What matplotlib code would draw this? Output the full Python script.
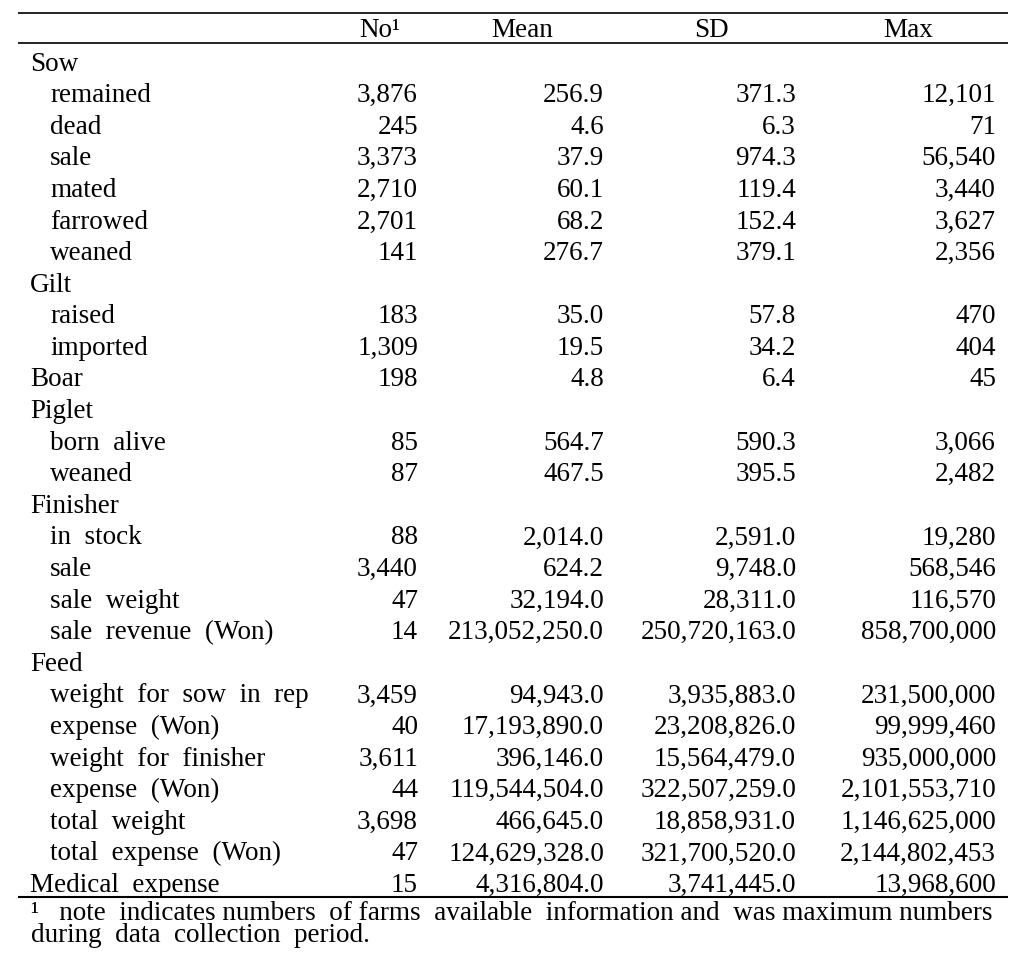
import matplotlib
matplotlib.use("Agg")
import matplotlib.pyplot as plt

# table content
labels = ["Sow", "remained", "dead", "sale", "mated", "farrowed", "weaned",
          "Gilt", "raised", "imported", "Boar",
          "Piglet", "born alive", "weaned",
          "Finisher", "in stock", "sale", "sale weight", "sale revenue (Won)",
          "Feed", "weight for sow in rep", "expense (Won)", "weight for finisher",
          "expense (Won)", "total weight", "total expense (Won)",
          "Medical expense"]
indent = [0, 1, 1, 1, 1, 1, 1,
          0, 1, 1, 0,
          0, 1, 1,
          0, 1, 1, 1, 1,
          0, 1, 1, 1, 1, 1, 1,
          0]
n_farms = [None, 3876, 245, 3373, 2710, 2701, 141,
           None, 183, 1309, 198,
           None, 85, 87,
           None, 88, 3440, 47, 14,
           None, 3459, 40, 3611, 44, 3698, 47,
           15]
means = [None, 256.9, 4.6, 37.9, 60.1, 68.2, 276.7,
         None, 35.0, 19.5, 4.8,
         None, 564.7, 467.5,
         None, 2014.0, 624.2, 32194.0, 213052250.0,
         None, 94943.0, 17193890.0, 396146.0, 119544504.0, 466645.0, 124629328.0,
         4316804.0]
sds = [None, 371.3, 6.3, 974.3, 119.4, 152.4, 379.1,
       None, 57.8, 34.2, 6.4,
       None, 590.3, 395.5,
       None, 2591.0, 9748.0, 28311.0, 250720163.0,
       None, 3935883.0, 23208826.0, 15564479.0, 322507259.0, 18858931.0, 321700520.0,
       3741445.0]
maxes = [None, 12101, 71, 56540, 3440, 3627, 2356,
         None, 470, 404, 45,
         None, 3066, 2482,
         None, 19280, 568546, 116570, 858700000,
         None, 231500000, 99999460, 935000000, 2101553710, 1146625000, 2144802453,
         13968600]
headers = ["No\u00b9", "Mean", "SD", "Max"]
note = ("note indicates numbers of farms available information and was "
        "maximum numbers during data collection period.")

plt.rcParams['font.family'] = ['Liberation Serif', 'DejaVu Serif']
fs = 19.5

fig = plt.figure(figsize=(10.34, 9.69), dpi=100)
ax = fig.add_axes([0, 0, 1, 1])
ax.set_xlim(0, 1034)
ax.set_ylim(969, 0)
ax.axis('off')

# rules
x0, x1 = 18, 1008
for y, lw in [(12.5, 1.2), (43, 1.2), (897, 1.5)]:
    ax.plot([x0, x1], [y, y], color='black', lw=lw, solid_capstyle='butt')

# header
hy = 37
for xc, h in zip([380, 522, 711, 908], headers):
    ax.text(xc, hy, h, ha='center', va='baseline', fontsize=fs)

# body (baselines)
y_first, step = 70.5, 31.6
col_right = [418, 604, 796, 996]
for i, lab in enumerate(labels):
    y = y_first + i * step
    ax.text(30 + 20 * indent[i], y, lab.replace(" ", "  "),
            ha='left', va='baseline', fontsize=fs)
    if n_farms[i] is None:
        continue
    vals = [f"{n_farms[i]:,}", f"{means[i]:,.1f}", f"{sds[i]:,.1f}", f"{maxes[i]:,}"]
    for xr, v in zip(col_right, vals):
        ax.text(xr, y, v, ha='right', va='baseline', fontsize=fs)

# footnote: first line padded with spaces so it looks justified
fig.canvas.draw()
r = fig.canvas.get_renderer()
words = note.split()
first, second = words[:11], words[11:]
prefix = "\u00b9   "
fx = 31
target = 996 - fx


def build(gaps):
    s = prefix + first[0]
    for g, w in zip(gaps, first[1:]):
        s += " " * g + w
    return s


def width(s):
    t = ax.text(0, 0, s, fontsize=fs)
    w = t.get_window_extent(r).width
    t.remove()
    return w


ng = len(first) - 1
g = 1
while width(build([g + 1] * ng)) <= target + 2:
    g += 1
gaps = [g] * ng
for k in [0, 5, 2, 7, 4, 9, 1, 6, 3, 8]:
    trial = list(gaps)
    trial[k] += 1
    if width(build(trial)) > target + 2:
        break
    gaps = trial
best = build(gaps)

# multi-line text: 'baseline' anchors the last line here
ax.text(fx, 942, best + "\n" + "  ".join(second), ha='left', va='baseline',
        fontsize=fs, linespacing=0.85)

fig.savefig("out.png", dpi=100)
